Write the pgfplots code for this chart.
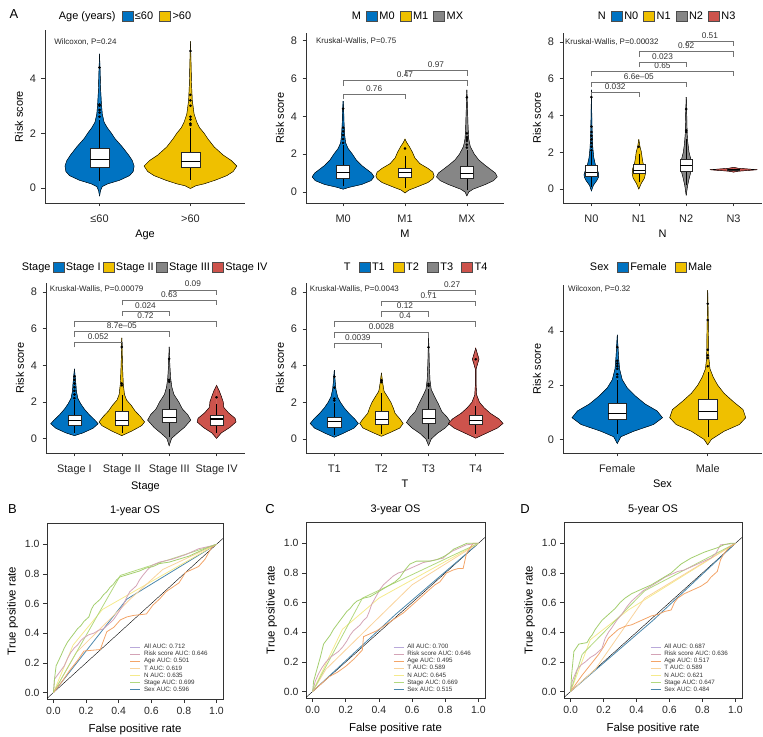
\documentclass[border=0pt]{standalone}
\usepackage{fontspec}
\setmainfont{Liberation Sans}
\usepackage{pgfplots}
\pgfplotsset{compat=1.18}
\usepackage{pgfplotstable}

\definecolor{jblue}{HTML}{0073C2}
\definecolor{jyellow}{HTML}{EFC000}
\definecolor{jgray}{HTML}{868686}
\definecolor{jred}{HTML}{CD534C}
\definecolor{rAll}{HTML}{B9A9DA}
\definecolor{rAllLine}{HTML}{A3CE6E}
\definecolor{rRisk}{HTML}{D4A3B6}
\definecolor{rAge}{HTML}{F3A468}
\definecolor{rT}{HTML}{F9D39C}
\definecolor{rN}{HTML}{F5EA8C}
\definecolor{rStage}{HTML}{B2D87E}
\definecolor{rSex}{HTML}{4B88AD}

% ---------------- violin profiles (y, half width in category units) ----------------
\pgfplotstableread{
y w
-0.3 0
-0.1 0.01
0.05 0.03
0.15 0.09
0.28 0.22
0.45 0.33
0.6 0.37
0.8 0.38
1.0 0.36
1.2 0.32
1.5 0.25
1.8 0.17
2.0 0.13
2.2 0.085
2.4 0.05
2.7 0.03
3.1 0.02
3.6 0.012
4.2 0.007
4.9 0
}\vAgeA
\pgfplotstableread{
y w
-0.02 0
0.08 0.06
0.15 0.15
0.28 0.27
0.45 0.40
0.6 0.47
0.8 0.51
1.0 0.45
1.2 0.36
1.5 0.26
1.8 0.19
2.0 0.15
2.2 0.10
2.4 0.07
2.7 0.04
3.2 0.02
3.8 0.012
4.5 0.007
5.35 0
}\vAgeB
\pgfplotstableread{
y w
0.15 0
0.25 0.1
0.4 0.3
0.6 0.45
0.8 0.5
1.0 0.46
1.2 0.38
1.4 0.3
1.7 0.21
2.0 0.15
2.3 0.08
2.6 0.04
3.0 0.025
3.6 0.015
4.2 0.01
4.8 0
}\vMa
\pgfplotstableread{
y w
-0.05 0
0.1 0.06
0.25 0.18
0.5 0.37
0.7 0.45
0.85 0.47
1.05 0.45
1.25 0.37
1.5 0.24
1.8 0.16
2.1 0.12
2.4 0.07
2.6 0.03
2.8 0
}\vMb
\pgfplotstableread{
y w
-0.2 0
0 0.03
0.15 0.1
0.4 0.3
0.6 0.43
0.8 0.49
1.0 0.46
1.2 0.38
1.45 0.28
1.7 0.19
2.0 0.12
2.4 0.055
2.8 0.03
3.4 0.02
4.2 0.012
5.4 0
}\vMc
\pgfplotstableread{
y w
-0.1 0
0.2 0.04
0.45 0.11
0.65 0.15
0.8 0.155
1.0 0.13
1.3 0.085
1.7 0.05
2.2 0.03
3.0 0.015
4.0 0.008
5.4 0
}\vNa
\pgfplotstableread{
y w
0 0
0.3 0.05
0.6 0.12
0.85 0.14
1.1 0.13
1.4 0.09
1.7 0.07
2.0 0.055
2.3 0.025
2.7 0
}\vNb
\pgfplotstableread{
y w
-0.35 0
0.2 0.03
0.6 0.065
1.0 0.105
1.3 0.12
1.6 0.1
2.0 0.06
2.5 0.035
3.0 0.02
4.0 0.012
5.0 0
}\vNc
\pgfplotstableread{
y w
0.92 0
0.97 0.1
1.01 0.3
1.05 0.5
1.09 0.3
1.13 0.1
1.18 0
}\vNd
\pgfplotstableread{
y w
0.15 0
0.3 0.18
0.55 0.39
0.8 0.5
1.0 0.43
1.3 0.31
1.6 0.21
1.9 0.13
2.2 0.07
2.6 0.04
3.0 0.03
3.4 0.015
3.8 0
}\vSa
\pgfplotstableread{
y w
0.15 0
0.4 0.21
0.7 0.42
0.9 0.48
1.2 0.39
1.5 0.28
1.8 0.2
2.1 0.1
2.4 0.056
3.0 0.03
4.0 0.015
5.5 0
}\vSb
\pgfplotstableread{
y w
-0.4 0
0 0.05
0.3 0.18
0.6 0.32
1.0 0.455
1.3 0.39
1.6 0.28
2.0 0.2
2.4 0.1
2.8 0.056
3.3 0.03
4.0 0.014
5.0 0
}\vSc
\pgfplotstableread{
y w
0 0
0.3 0.1
0.6 0.28
0.9 0.41
1.1 0.39
1.4 0.25
1.7 0.15
2.0 0.14
2.3 0.1
2.6 0.056
2.9 0
}\vSd
\pgfplotstableread{
y w
0.1 0
0.3 0.18
0.6 0.42
0.85 0.51
1.1 0.43
1.4 0.31
1.7 0.21
2.0 0.13
2.3 0.07
2.7 0.035
3.1 0.02
3.75 0
}\vTa
\pgfplotstableread{
y w
0.15 0
0.35 0.18
0.6 0.39
0.85 0.46
1.1 0.39
1.4 0.29
1.7 0.25
2.0 0.2
2.3 0.13
2.6 0.056
3.0 0.03
3.6 0
}\vTb
\pgfplotstableread{
y w
-0.35 0
0 0.056
0.3 0.18
0.6 0.35
0.9 0.47
1.2 0.39
1.5 0.28
1.9 0.21
2.3 0.13
2.7 0.056
3.2 0.03
4.2 0.014
5.67 0
}\vTc
\pgfplotstableread{
y w
0.05 0
0.3 0.21
0.6 0.46
0.85 0.58
1.1 0.49
1.4 0.31
1.7 0.18
2.0 0.08
2.4 0.02
3.0 0.007
3.8 0.007
4.1 0.04
4.35 0.07
4.6 0.04
4.95 0
}\vTd
\pgfplotstableread{
y w
-0.15 0
0.1 0.04
0.3 0.18
0.55 0.4
0.8 0.5
1.05 0.44
1.3 0.31
1.6 0.2
1.9 0.11
2.2 0.055
2.6 0.025
3.0 0.015
3.85 0
}\vXa
\pgfplotstableread{
y w
-0.2 0
0 0.04
0.3 0.18
0.55 0.35
0.8 0.42
1.1 0.39
1.4 0.28
1.7 0.18
2.0 0.11
2.3 0.06
2.6 0.025
3.0 0.012
4.0 0.008
5.5 0
}\vXb

% ---------------- ROC curves ----------------
\pgfplotstableread{
x y
0 0
0.006 0.09
0.016 0.18
0.046 0.25
0.066 0.30
0.086 0.34
0.106 0.37
0.127 0.40
0.147 0.43
0.167 0.45
0.187 0.48
0.217 0.51
0.232 0.56
0.247 0.59
0.267 0.61
0.287 0.63
0.307 0.66
0.327 0.68
0.347 0.71
0.367 0.73
0.387 0.76
0.408 0.78
0.438 0.79
0.468 0.80
0.528 0.82
0.568 0.84
0.61 0.85
0.65 0.87
0.71 0.88
0.77 0.90
0.83 0.92
0.89 0.95
0.95 0.98
1 1
}\rBall
\pgfplotstableread{
x y
0 0
0.006 0.09
0.036 0.135
0.066 0.18
0.086 0.23
0.106 0.27
0.127 0.30
0.147 0.32
0.167 0.35
0.187 0.37
0.217 0.39
0.247 0.40
0.277 0.42
0.307 0.43
0.337 0.46
0.367 0.49
0.398 0.54
0.428 0.59
0.448 0.64
0.468 0.68
0.488 0.70
0.508 0.72
0.528 0.76
0.548 0.79
0.578 0.83
0.608 0.86
0.65 0.88
0.73 0.90
0.81 0.93
0.85 0.95
0.89 0.97
0.97 0.99
1 1
}\rBrisk
\pgfplotstableread{
x y
0 0
0.05 0.07
0.1 0.15
0.15 0.22
0.187 0.28
0.287 0.29
0.31 0.36
0.327 0.41
0.37 0.44
0.41 0.49
0.45 0.51
0.49 0.52
0.57 0.53
0.61 0.59
0.65 0.63
0.69 0.68
0.73 0.71
0.77 0.74
0.81 0.81
0.85 0.83
0.89 0.85
0.93 0.90
0.95 0.94
0.97 0.98
1 1
}\rBage
\pgfplotstableread{
x y
0 0
0.006 0.07
0.026 0.15
0.046 0.23
0.066 0.32
0.086 0.35
0.106 0.38
0.126 0.42
0.146 0.45
0.166 0.48
0.186 0.51
0.206 0.54
0.226 0.56
0.247 0.59
0.267 0.61
0.287 0.62
0.307 0.63
0.347 0.64
0.377 0.66
0.407 0.68
0.437 0.70
0.467 0.72
0.497 0.74
0.527 0.77
0.557 0.82
0.587 0.86
0.627 0.88
0.71 0.88
0.75 0.89
0.79 0.91
0.82 0.93
0.85 0.96
0.89 0.98
0.93 1.0
1 1
}\rCall
\pgfplotstableread{
x y
0 0
0.016 0.07
0.036 0.12
0.056 0.16
0.081 0.2
0.106 0.23
0.131 0.25
0.156 0.27
0.181 0.30
0.206 0.34
0.226 0.38
0.246 0.41
0.267 0.43
0.287 0.45
0.307 0.48
0.327 0.50
0.342 0.54
0.357 0.59
0.372 0.62
0.387 0.65
0.407 0.69
0.427 0.72
0.457 0.75
0.487 0.78
0.517 0.80
0.547 0.81
0.587 0.83
0.627 0.85
0.667 0.87
0.707 0.88
0.747 0.89
0.787 0.90
0.817 0.93
0.848 0.95
0.888 0.97
0.928 0.99
1 1
}\rCrisk
\pgfplotstableread{
x y
0 0
0.05 0.05
0.1 0.1
0.15 0.13
0.2 0.17
0.25 0.22
0.3 0.28
0.307 0.37
0.347 0.39
0.387 0.41
0.427 0.44
0.467 0.47
0.507 0.50
0.547 0.53
0.587 0.57
0.627 0.61
0.667 0.65
0.707 0.69
0.738 0.72
0.768 0.74
0.788 0.77
0.808 0.80
0.848 0.82
0.878 0.83
0.908 0.83
0.928 0.93
0.95 0.97
0.968 1.0
1 1
}\rCage
\pgfplotstableread{
x y
0 0
0.006 0.11
0.02 0.27
0.05 0.32
0.1 0.33
0.115 0.36
0.13 0.38
0.15 0.42
0.17 0.45
0.19 0.48
0.21 0.50
0.24 0.53
0.27 0.56
0.30 0.60
0.33 0.63
0.37 0.66
0.41 0.68
0.45 0.70
0.49 0.72
0.52 0.74
0.55 0.76
0.58 0.78
0.61 0.80
0.64 0.83
0.67 0.86
0.70 0.88
0.73 0.90
0.77 0.92
0.81 0.94
0.85 0.955
0.89 0.97
0.93 0.99
0.97 1.0
1 1
}\rDall
\pgfplotstableread{
x y
0 0
0.01 0.07
0.04 0.15
0.065 0.18
0.09 0.20
0.12 0.23
0.15 0.25
0.19 0.29
0.21 0.36
0.23 0.40
0.25 0.43
0.28 0.48
0.31 0.52
0.34 0.57
0.37 0.61
0.41 0.65
0.44 0.68
0.47 0.70
0.50 0.72
0.53 0.74
0.57 0.77
0.61 0.79
0.65 0.81
0.69 0.82
0.73 0.84
0.77 0.86
0.81 0.88
0.85 0.90
0.88 0.93
0.91 0.99
1 1
}\rDrisk
\pgfplotstableread{
x y
0 0
0.07 0.11
0.12 0.18
0.17 0.25
0.20 0.30
0.23 0.36
0.29 0.42
0.33 0.44
0.37 0.45
0.41 0.47
0.45 0.49
0.49 0.51
0.53 0.52
0.57 0.54
0.61 0.55
0.63 0.60
0.65 0.63
0.69 0.66
0.73 0.68
0.79 0.71
0.83 0.74
0.85 0.77
0.89 0.81
0.91 0.89
0.93 0.93
0.96 0.97
1 1
}\rDage

% ---------------- helpers ----------------
% violin: table, position, colour
\newcommand{\violin}[3]{%
  \addplot[forget plot, fill=#3, draw=#3, line width=0.3pt] table[x expr={#2+\thisrow{w}}, y=y] {#1} -- cycle;
  \addplot[forget plot, fill=#3, draw=#3, line width=0.3pt] table[x expr={#2-\thisrow{w}}, y=y] {#1} -- cycle;
  \addplot[forget plot, black, line width=0.45pt] table[x expr={#2+\thisrow{w}}, y=y] {#1};
  \addplot[forget plot, black, line width=0.45pt] table[x expr={#2-\thisrow{w}}, y=y] {#1};
}
% box: position, half width, lower whisker, Q1, median, Q3, upper whisker
\newcommand{\bx}[7]{%
  \pgfmathsetmacro{\bxl}{#1-#2}\pgfmathsetmacro{\bxr}{#1+#2}%
  \addplot[forget plot, black, line width=0.45pt] coordinates {(#1,#3) (#1,#4)};
  \addplot[forget plot, black, line width=0.45pt] coordinates {(#1,#6) (#1,#7)};
  \addplot[forget plot, fill=white, draw=black!85, line width=0.45pt] coordinates {(\bxl,#4) (\bxr,#4) (\bxr,#6) (\bxl,#6)} -- cycle;
  \addplot[forget plot, black, line width=1.1pt] coordinates {(\bxl,#5) (\bxr,#5)};
}
\newcommand{\brk}[4]{%
  \draw[black!55, line width=0.5pt] (axis cs:#1,#3-0.28) -- (axis cs:#1,#3) -- (axis cs:#2,#3) -- (axis cs:#2,#3-0.28);
  \node[font=\fontsize{8.3}{9}\selectfont, text=black!80, anchor=south, inner sep=2.5bp] at (axis cs:{(#1+#2)/2},#3) {#4};
}
\newcommand{\pnote}[3]{%
  \node[font=\fontsize{8}{9}\selectfont, text=black!85, anchor=west, inner sep=0pt] at (axis cs:#1,#2) {#3};
}

\pgfplotsset{
  violinax/.style={
    scale only axis, anchor=south west, clip=false,
    axis x line*=bottom, axis y line*=left,
    axis line style={black!80, line width=0.55pt},
    tick style={black!80, line width=0.55pt},
    tick align=outside, major tick length=3.5bp,
    /pgf/number format/assume math mode=true,
    tick label style={font=\fontsize{11}{13}\selectfont, text=black!85},
    xticklabel style={yshift=-5bp},
    yticklabel style={xshift=-2bp},
    label style={font=\fontsize{11}{13}\selectfont},
    ylabel={Risk score},
    legend image code/.code={\draw[##1, line width=0.5pt] (0bp,-5bp) rectangle (11bp,5bp);},
    legend style={draw=none, fill=none, legend columns=-1, anchor=west, inner sep=0pt,
      font=\fontsize{11}{13}\selectfont, nodes={inner sep=1.2bp},
      /tikz/every odd column/.append style={column sep=0.5bp}},
  },
  rocax/.style={
    scale only axis, anchor=south west,
    xmin=-0.04, xmax=1.04, ymin=-0.044, ymax=1.144,
    xtick={0,0.2,0.4,0.6,0.8,1}, ytick={0,0.2,0.4,0.6,0.8,1},
    xtick pos=left, ytick pos=left, tick align=outside, major tick length=4bp,
    axis line style={black!80, line width=0.6pt}, tick style={black!80, line width=0.6pt},
    /pgf/number format/assume math mode=true,
    /pgf/number format/fixed, /pgf/number format/fixed zerofill, /pgf/number format/precision=1,
    tick label style={font=\fontsize{10.5}{12}\selectfont, text=black!85},
    xticklabel style={yshift=-1bp},
    label style={font=\fontsize{11.5}{13}\selectfont},
    xlabel style={yshift=-2bp},
    xlabel={False positive rate}, ylabel={True positive rate},
    title style={font=\fontsize{11}{13}\selectfont, yshift=-2bp},
    legend image code/.code={\draw[##1, line width=0.7pt] (0bp,0bp) -- (10bp,0bp);},
    legend cell align=left,
    legend style={draw=none, fill=none, anchor=north west, inner sep=0pt,
      font=\fontsize{6.3}{7}\selectfont, text=black!80,
      nodes={inner sep=0.4bp, text height=4.6bp, text depth=1.4bp},
      row sep=0.3bp, /tikz/every odd column/.append style={column sep=3bp}},
  },
}

\begin{document}
\begin{tikzpicture}
\useasboundingbox (0,0) rectangle (763bp,737bp);

% ===== Age =====
\begin{axis}[violinax, at={(45bp,534bp)}, width=200bp, height=173bp,
  xmin=0.4, xmax=2.6, ymin=-0.55, ymax=5.77, xtick={1,2}, xticklabels={≤60,>60},
  ytick={0,2,4}, xlabel={Age},
  legend style={at={(0.06,1)}, yshift=14bp, /tikz/every even column/.append style={column sep=5bp}}]
\violin{\vAgeA}{1}{jblue}
\violin{\vAgeB}{2}{jyellow}
\bx{1}{0.105}{0.25}{0.77}{1.05}{1.46}{2.5}
\bx{2}{0.105}{0.3}{0.74}{0.96}{1.32}{2.2}
\addplot[forget plot, only marks, mark=*, mark size=1.1bp, black] coordinates {(1,2.6) (1,2.75) (1,2.85) (1,3.0) (1,3.05) (1,4.4) (2,2.3) (2,2.35) (2,2.5) (2,2.6) (2,3.0) (2,3.2) (2,3.4) (2,5.0)};
\pnote{0.5}{5.31}{Wilcoxon, P=0.24}
\addlegendimage{empty legend}\addlegendentry{Age (years)}
\addlegendimage{fill=jblue, draw=black!70}\addlegendentry{≤60\hspace{3bp}}
\addlegendimage{fill=jyellow, draw=black!70}\addlegendentry{>60}
\end{axis}

% ===== M =====
\begin{axis}[violinax, at={(306bp,534bp)}, width=198bp, height=170bp,
  xmin=0.4, xmax=3.6, ymin=-0.58, ymax=8.4, xtick={1,2,3}, xticklabels={M0,M1,MX},
  ytick={0,2,4,6,8}, xlabel={M},
  legend style={at={(0.222,1)}, yshift=17bp, /tikz/every even column/.append style={column sep=4bp}}]
\violin{\vMa}{1}{jblue}
\violin{\vMb}{2}{jyellow}
\violin{\vMc}{3}{jgray}
\bx{1}{0.105}{0.3}{0.74}{1.03}{1.43}{2.5}
\bx{2}{0.105}{0.2}{0.8}{1.04}{1.27}{1.9}
\bx{3}{0.105}{0.1}{0.74}{1.0}{1.38}{2.2}
\addplot[forget plot, only marks, mark=*, mark size=1.1bp, black] coordinates {(1,2.6) (1,2.8) (1,3.0) (1,3.2) (1,3.4) (1,4.4) (2,2.3) (3,2.35) (3,2.5) (3,2.7) (3,2.8) (3,2.9) (3,3.1) (3,5.0)};
\brk{1}{2}{5.17}{0.76}
\brk{1}{3}{5.88}{0.47}
\brk{2}{3}{6.42}{0.97}
\pnote{0.56}{7.95}{Kruskal-Wallis, P=0.75}
\addlegendimage{empty legend}\addlegendentry{M}
\addlegendimage{fill=jblue, draw=black!70}\addlegendentry{M0}
\addlegendimage{fill=jyellow, draw=black!70}\addlegendentry{M1}
\addlegendimage{fill=jgray, draw=black!70}\addlegendentry{MX}
\end{axis}

% ===== N =====
\begin{axis}[violinax, at={(563bp,534bp)}, width=199bp, height=170bp,
  xmin=0.4, xmax=4.6, ymin=-0.76, ymax=8.49, xtick={1,2,3,4}, xticklabels={N0,N1,N2,N3},
  ytick={0,2,4,6,8}, xlabel={N},
  legend style={at={(0.166,1)}, yshift=17bp, /tikz/every even column/.append style={column sep=4bp}}]
\violin{\vNa}{1}{jblue}
\violin{\vNb}{2}{jyellow}
\violin{\vNc}{3}{jgray}
\violin{\vNd}{4}{jred}
\bx{1}{0.125}{0.1}{0.72}{0.9}{1.3}{2.0}
\bx{2}{0.125}{0.4}{0.85}{1.03}{1.34}{1.9}
\bx{3}{0.125}{0.2}{0.96}{1.28}{1.61}{2.7}
\bx{4}{0.125}{1.0}{1.02}{1.05}{1.08}{1.1}
\addplot[forget plot, only marks, mark=*, mark size=1.1bp, black] coordinates {(1,2.1) (1,2.3) (1,2.5) (1,2.7) (1,2.9) (1,3.1) (1,3.4) (1,5.0) (2,2.3) (3,3.1) (3,3.2) (3,4.35)};
\brk{1}{2}{5.28}{0.032}
\brk{1}{3}{5.83}{6.6e\textendash05}
\brk{1}{4}{6.41}{0.65}
\brk{2}{3}{6.91}{0.023}
\brk{2}{4}{7.49}{0.92}
\brk{3}{4}{8.05}{0.51}
\pnote{0.44}{8.0}{Kruskal-Wallis, P=0.00032}
\addlegendimage{empty legend}\addlegendentry{N}
\addlegendimage{fill=jblue, draw=black!70}\addlegendentry{N0}
\addlegendimage{fill=jyellow, draw=black!70}\addlegendentry{N1}
\addlegendimage{fill=jgray, draw=black!70}\addlegendentry{N2}
\addlegendimage{fill=jred, draw=black!70}\addlegendentry{N3}
\end{axis}

% ===== Stage =====
\begin{axis}[violinax, at={(46bp,284bp)}, width=199bp, height=170bp,
  xmin=0.4, xmax=4.6, ymin=-0.8, ymax=8.5, xtick={1,2,3,4}, xticklabels={Stage I,Stage II,Stage III,Stage IV},
  ytick={0,2,4,6,8}, xlabel={Stage},
  legend style={at={(-0.131,1)}, yshift=16bp, /tikz/every even column/.append style={column sep=1bp}}]
\violin{\vSa}{1}{jblue}
\violin{\vSb}{2}{jyellow}
\violin{\vSc}{3}{jgray}
\violin{\vSd}{4}{jred}
\bx{1}{0.14}{0.3}{0.73}{0.97}{1.28}{2.1}
\bx{2}{0.14}{0.3}{0.73}{1.0}{1.46}{2.4}
\bx{3}{0.14}{0.1}{0.86}{1.13}{1.6}{2.7}
\bx{4}{0.14}{0.3}{0.73}{1.06}{1.24}{1.9}
\addplot[forget plot, only marks, mark=*, mark size=1.1bp, black] coordinates {(1,2.2) (1,2.4) (1,2.6) (1,2.8) (1,3.0) (1,3.2) (1,3.4) (2,2.9) (2,3.0) (2,5.0) (3,3.1) (3,3.2) (3,4.35) (4,2.25)};
\brk{1}{2}{5.26}{0.052}
\brk{1}{3}{5.84}{8.7e\textendash05}
\brk{1}{4}{6.39}{0.72}
\brk{2}{3}{6.98}{0.024}
\brk{2}{4}{7.56}{0.63}
\brk{3}{4}{8.13}{0.09}
\pnote{0.48}{8.17}{Kruskal-Wallis, P=0.00079}
\addlegendimage{empty legend}\addlegendentry{Stage}
\addlegendimage{fill=jblue, draw=black!70}\addlegendentry{Stage I}
\addlegendimage{fill=jyellow, draw=black!70}\addlegendentry{Stage II}
\addlegendimage{fill=jgray, draw=black!70}\addlegendentry{Stage III}
\addlegendimage{fill=jred, draw=black!70}\addlegendentry{Stage IV}
\end{axis}

% ===== T =====
\begin{axis}[violinax, at={(306bp,284bp)}, width=198bp, height=170bp,
  xmin=0.4, xmax=4.6, ymin=-0.76, ymax=8.5, xtick={1,2,3,4}, xticklabels={T1,T2,T3,T4},
  ytick={0,2,4,6,8}, xlabel={T},
  legend style={at={(0.182,1)}, yshift=16bp, /tikz/every even column/.append style={column sep=7bp}}]
\violin{\vTa}{1}{jblue}
\violin{\vTb}{2}{jyellow}
\violin{\vTc}{3}{jgray}
\violin{\vTd}{4}{jred}
\bx{1}{0.14}{0.2}{0.67}{0.95}{1.18}{1.95}
\bx{2}{0.14}{0.3}{0.8}{1.04}{1.49}{2.5}
\bx{3}{0.14}{0.0}{0.85}{1.13}{1.62}{2.7}
\bx{4}{0.14}{0.3}{0.8}{1.0}{1.29}{1.8}
\addplot[forget plot, only marks, mark=*, mark size=1.1bp, black] coordinates {(1,2.1) (1,2.2) (1,2.8) (1,3.4) (2,3.1) (2,3.2) (3,2.9) (3,3.0) (3,5.0) (4,4.35)};
\brk{1}{2}{5.22}{0.0039}
\brk{1}{3}{5.8}{0.0028}
\brk{1}{4}{6.4}{0.4}
\brk{2}{3}{6.95}{0.12}
\brk{2}{4}{7.53}{0.71}
\brk{3}{4}{8.13}{0.27}
\pnote{0.48}{8.17}{Kruskal-Wallis, P=0.0043}
\addlegendimage{empty legend}\addlegendentry{T}
\addlegendimage{fill=jblue, draw=black!70}\addlegendentry{T1}
\addlegendimage{fill=jyellow, draw=black!70}\addlegendentry{T2}
\addlegendimage{fill=jgray, draw=black!70}\addlegendentry{T3}
\addlegendimage{fill=jred, draw=black!70}\addlegendentry{T4}
\end{axis}

% ===== Sex =====
\begin{axis}[violinax, at={(563bp,284bp)}, width=199bp, height=168bp,
  xmin=0.4, xmax=2.6, ymin=-0.5, ymax=5.69, xtick={1,2}, xticklabels={Female,Male},
  ytick={0,2,4}, xlabel={Sex},
  legend style={at={(0.126,1)}, yshift=18bp, /tikz/every even column/.append style={column sep=7bp}}]
\violin{\vXa}{1}{jblue}
\violin{\vXb}{2}{jyellow}
\bx{1}{0.1}{0.2}{0.75}{0.96}{1.33}{2.2}
\bx{2}{0.1}{0.1}{0.74}{1.02}{1.48}{2.5}
\addplot[forget plot, only marks, mark=*, mark size=1.1bp, black] coordinates {(1,2.3) (1,2.4) (1,2.6) (1,2.7) (1,2.8) (1,2.9) (1,3.4) (2,2.7) (2,3.0) (2,3.1) (2,3.3) (2,4.4) (2,5.0)};
\pnote{0.455}{5.54}{Wilcoxon, P=0.32}
\addlegendimage{empty legend}\addlegendentry{Sex}
\addlegendimage{fill=jblue, draw=black!70}\addlegendentry{Female\hspace{9bp}}
\addlegendimage{fill=jyellow, draw=black!70}\addlegendentry{Male}
\end{axis}

% ===== ROC B =====
\begin{axis}[rocax, at={(47bp,38bp)}, width=176bp, height=176bp, title={1-year OS},
  legend style={at={(0.47,0.315)}}]
\addplot[forget plot, black, line width=0.4pt] coordinates {(-0.04,-0.04) (1.04,1.04)};
\addplot[forget plot, rSex, line width=0.8pt] coordinates {(0,0) (0.45,0.63) (1,1)};
\addplot[forget plot, rN, line width=0.8pt] coordinates {(0,0) (0.12,0.32) (0.3,0.56) (1,1)};
\addplot[forget plot, rT, line width=0.8pt] coordinates {(0,0) (0.14,0.27) (0.47,0.63) (0.67,0.83) (1,1)};
\addplot[forget plot, rStage, line width=0.8pt] coordinates {(0,0) (0.41,0.79) (1,1)};
\addplot[forget plot, rAge, line width=0.8pt] table {\rBage};
\addplot[forget plot, rRisk, line width=0.8pt] table {\rBrisk};
\addplot[forget plot, rAllLine, line width=0.8pt] table {\rBall};
\addlegendimage{rAll}\addlegendentry{All AUC: 0.712}
\addlegendimage{rRisk}\addlegendentry{Risk score AUC: 0.646}
\addlegendimage{rAge}\addlegendentry{Age AUC: 0.501}
\addlegendimage{rT}\addlegendentry{T AUC: 0.619}
\addlegendimage{rN}\addlegendentry{N AUC: 0.635}
\addlegendimage{rStage}\addlegendentry{Stage AUC: 0.699}
\addlegendimage{rSex}\addlegendentry{Sex AUC: 0.596}
\end{axis}

% ===== ROC C =====
\begin{axis}[rocax, at={(306bp,39bp)}, width=179bp, height=176bp, title={3-year OS},
  legend style={at={(0.486,0.31)}}]
\addplot[forget plot, black, line width=0.4pt] coordinates {(-0.04,-0.04) (1.04,1.04)};
\addplot[forget plot, rSex, line width=0.8pt] coordinates {(0,0) (0.5,0.52) (1,1)};
\addplot[forget plot, rN, line width=0.8pt] coordinates {(0,0) (0.18,0.42) (0.4,0.63) (1,1)};
\addplot[forget plot, rT, line width=0.8pt] coordinates {(0,0) (0.08,0.15) (0.6,0.72) (1,1)};
\addplot[forget plot, rStage, line width=0.8pt] coordinates {(0,0) (0.3,0.63) (1,1)};
\addplot[forget plot, rAge, line width=0.8pt] table {\rCage};
\addplot[forget plot, rRisk, line width=0.8pt] table {\rCrisk};
\addplot[forget plot, rAllLine, line width=0.8pt] table {\rCall};
\addlegendimage{rAll}\addlegendentry{All AUC: 0.700}
\addlegendimage{rRisk}\addlegendentry{Risk score AUC: 0.646}
\addlegendimage{rAge}\addlegendentry{Age AUC: 0.495}
\addlegendimage{rT}\addlegendentry{T AUC: 0.589}
\addlegendimage{rN}\addlegendentry{N AUC: 0.645}
\addlegendimage{rStage}\addlegendentry{Stage AUC: 0.669}
\addlegendimage{rSex}\addlegendentry{Sex AUC: 0.515}
\end{axis}

% ===== ROC D =====
\begin{axis}[rocax, at={(564bp,39bp)}, width=178bp, height=176bp, title={5-year OS},
  legend style={at={(0.483,0.31)}}]
\addplot[forget plot, black, line width=0.4pt] coordinates {(-0.04,-0.04) (1.04,1.04)};
\addplot[forget plot, rSex, line width=0.8pt] coordinates {(0,0) (0.5,0.48) (1,1)};
\addplot[forget plot, rN, line width=0.8pt] coordinates {(0,0) (0.12,0.35) (0.35,0.55) (1,1)};
\addplot[forget plot, rT, line width=0.8pt] coordinates {(0,0) (0.15,0.15) (0.45,0.63) (1,1)};
\addplot[forget plot, rStage, line width=0.8pt] coordinates {(0,0) (0.07,0.25) (0.45,0.68) (1,1)};
\addplot[forget plot, rAge, line width=0.8pt] table {\rDage};
\addplot[forget plot, rRisk, line width=0.8pt] table {\rDrisk};
\addplot[forget plot, rAllLine, line width=0.8pt] table {\rDall};
\addlegendimage{rAll}\addlegendentry{All AUC: 0.687}
\addlegendimage{rRisk}\addlegendentry{Risk score AUC: 0.636}
\addlegendimage{rAge}\addlegendentry{Age AUC: 0.517}
\addlegendimage{rT}\addlegendentry{T AUC: 0.589}
\addlegendimage{rN}\addlegendentry{N AUC: 0.621}
\addlegendimage{rStage}\addlegendentry{Stage AUC: 0.647}
\addlegendimage{rSex}\addlegendentry{Sex AUC: 0.484}
\end{axis}

% panel letters
\node[font=\fontsize{13}{15}\selectfont] at (14bp,723bp) {A};
\node[font=\fontsize{13}{15}\selectfont] at (12.5bp,227.5bp) {B};
\node[font=\fontsize{13}{15}\selectfont] at (270bp,227.5bp) {C};
\node[font=\fontsize{13}{15}\selectfont] at (525bp,227.5bp) {D};
\end{tikzpicture}
\end{document}
